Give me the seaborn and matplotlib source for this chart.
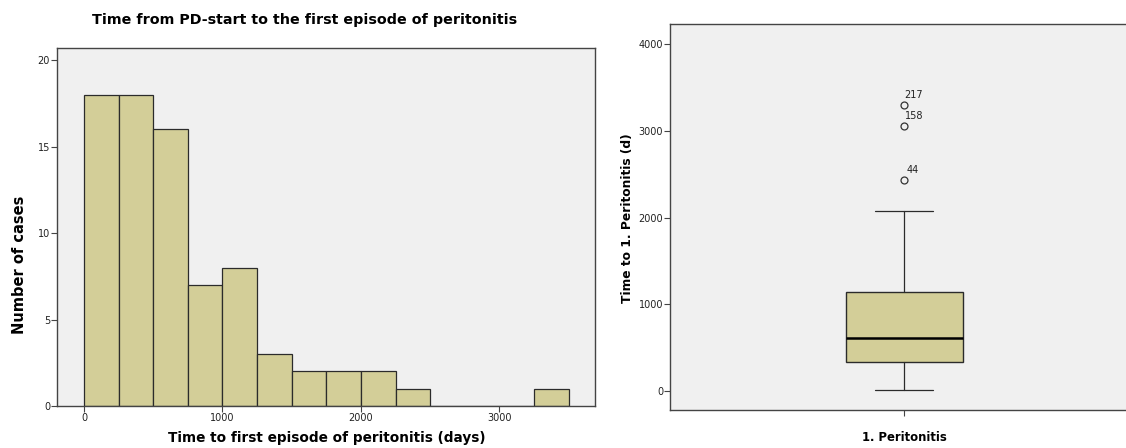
import numpy as np
import matplotlib
matplotlib.use("Agg")
import matplotlib.pyplot as plt
import seaborn as sns

# Histogram: counts per 250-day bin, 0 .. 3500 days
bin_edges = [0, 250, 500, 750, 1000, 1250, 1500, 1750, 2000, 2250, 2500, 2750, 3000, 3250, 3500]
bin_counts = [18, 18, 16, 7, 8, 3, 2, 2, 2, 1, 0, 0, 0, 1]

# Box plot summary for time to first peritonitis (days)
box_label = "1. Peritonitis"
whisker_low = 12
q1 = 338
median = 615
q3 = 1141
whisker_high = 2070
outlier_values = [2438, 3052, 3300]
outlier_ids = ["44", "158", "217"]

bar_color = "#D3CE98"
panel_bg = "#F0F0F0"
edge = "#2b2b2b"

sns.set_theme(style="white")
plt.rcParams["font.family"] = ["DejaVu Sans"]
plt.rcParams["text.color"] = "black"

fig = plt.figure(figsize=(11.26, 4.48), dpi=100)
W, H = 1126, 448

def axes_px(x0, y0, x1, y1):
    return fig.add_axes([x0 / W, 1 - y1 / H, (x1 - x0) / W, (y1 - y0) / H])

# ---- left: histogram ----
ax1 = axes_px(57, 48, 595, 406)
ax1.set_facecolor(panel_bg)
centers = [(a + b) / 2 for a, b in zip(bin_edges[:-1], bin_edges[1:])]
sns.histplot(x=centers, weights=bin_counts, bins=bin_edges, ax=ax1,
             color=bar_color, edgecolor=edge, linewidth=0.9, alpha=1.0)
ax1.set_xlim(-195, 3690)
ax1.set_ylim(0, 20.7)
ax1.set_xticks([0, 1000, 2000, 3000])
ax1.set_yticks([0, 5, 10, 15, 20])
ax1.set_xlabel("")
ax1.set_ylabel("")

# ---- right: box plot ----
ax2 = axes_px(670, 24.5, 1138, 410)
ax2.set_facecolor(panel_bg)
stats = [dict(med=median, q1=q1, q3=q3, whislo=whisker_low, whishi=whisker_high,
              fliers=outlier_values, label=box_label)]
ax2.bxp(stats, positions=[0], widths=0.5, patch_artist=True,
        boxprops=dict(facecolor=bar_color, edgecolor=edge, linewidth=1.0),
        medianprops=dict(color="black", linewidth=1.8),
        whiskerprops=dict(color=edge, linewidth=0.9),
        capprops=dict(color=edge, linewidth=0.9),
        capwidths=0.25,
        flierprops=dict(marker="o", markersize=5, markerfacecolor="none",
                        markeredgecolor="#333333", markeredgewidth=0.9))
for v, lab in zip(outlier_values, outlier_ids):
    dx = 2 if len(lab) < 3 else 0.5
    ax2.annotate(lab, xy=(0, v), xytext=(dx, 3.5), textcoords="offset points",
                 fontsize=7, color="#222222", ha="left", va="bottom")
ax2.set_xlim(-1.0, 1.0)
ax2.set_ylim(-219, 4225)
ax2.set_yticks([0, 1000, 2000, 3000, 4000])
ax2.set_xticks([0])
ax2.set_xticklabels([""])

for ax in (ax1, ax2):
    for s in ax.spines.values():
        s.set_color("#444444")
        s.set_linewidth(1.0)
        s.set_visible(True)
    ax.tick_params(axis="both", direction="out", length=4, width=0.8,
                   color="#444444", labelsize=7, labelcolor="#222222", pad=1,
                   left=True, bottom=True)

ax2.spines["right"].set_visible(False)

# Titles and axis labels
fig.text(305 / W, 1 - 20 / H, "Time from PD-start to the first episode of peritonitis",
         ha="center", va="center", fontsize=10.3, fontweight="bold")
fig.text(327 / W, 1 - 438 / H, "Time to first episode of peritonitis (days)",
         ha="center", va="center", fontsize=9.8, fontweight="bold")
fig.text(20 / W, 1 - 265 / H, "Number of cases", rotation=90,
         ha="center", va="center", fontsize=10.5, fontweight="bold")
fig.text(627 / W, 1 - 218 / H, "Time to 1. Peritonitis (d)", rotation=90,
         ha="center", va="center", fontsize=8.8, fontweight="bold")
fig.text(904 / W, 1 - 437 / H, box_label,
         ha="center", va="center", fontsize=8.4, fontweight="bold")

fig.savefig("out.png", dpi=100, facecolor="white")
